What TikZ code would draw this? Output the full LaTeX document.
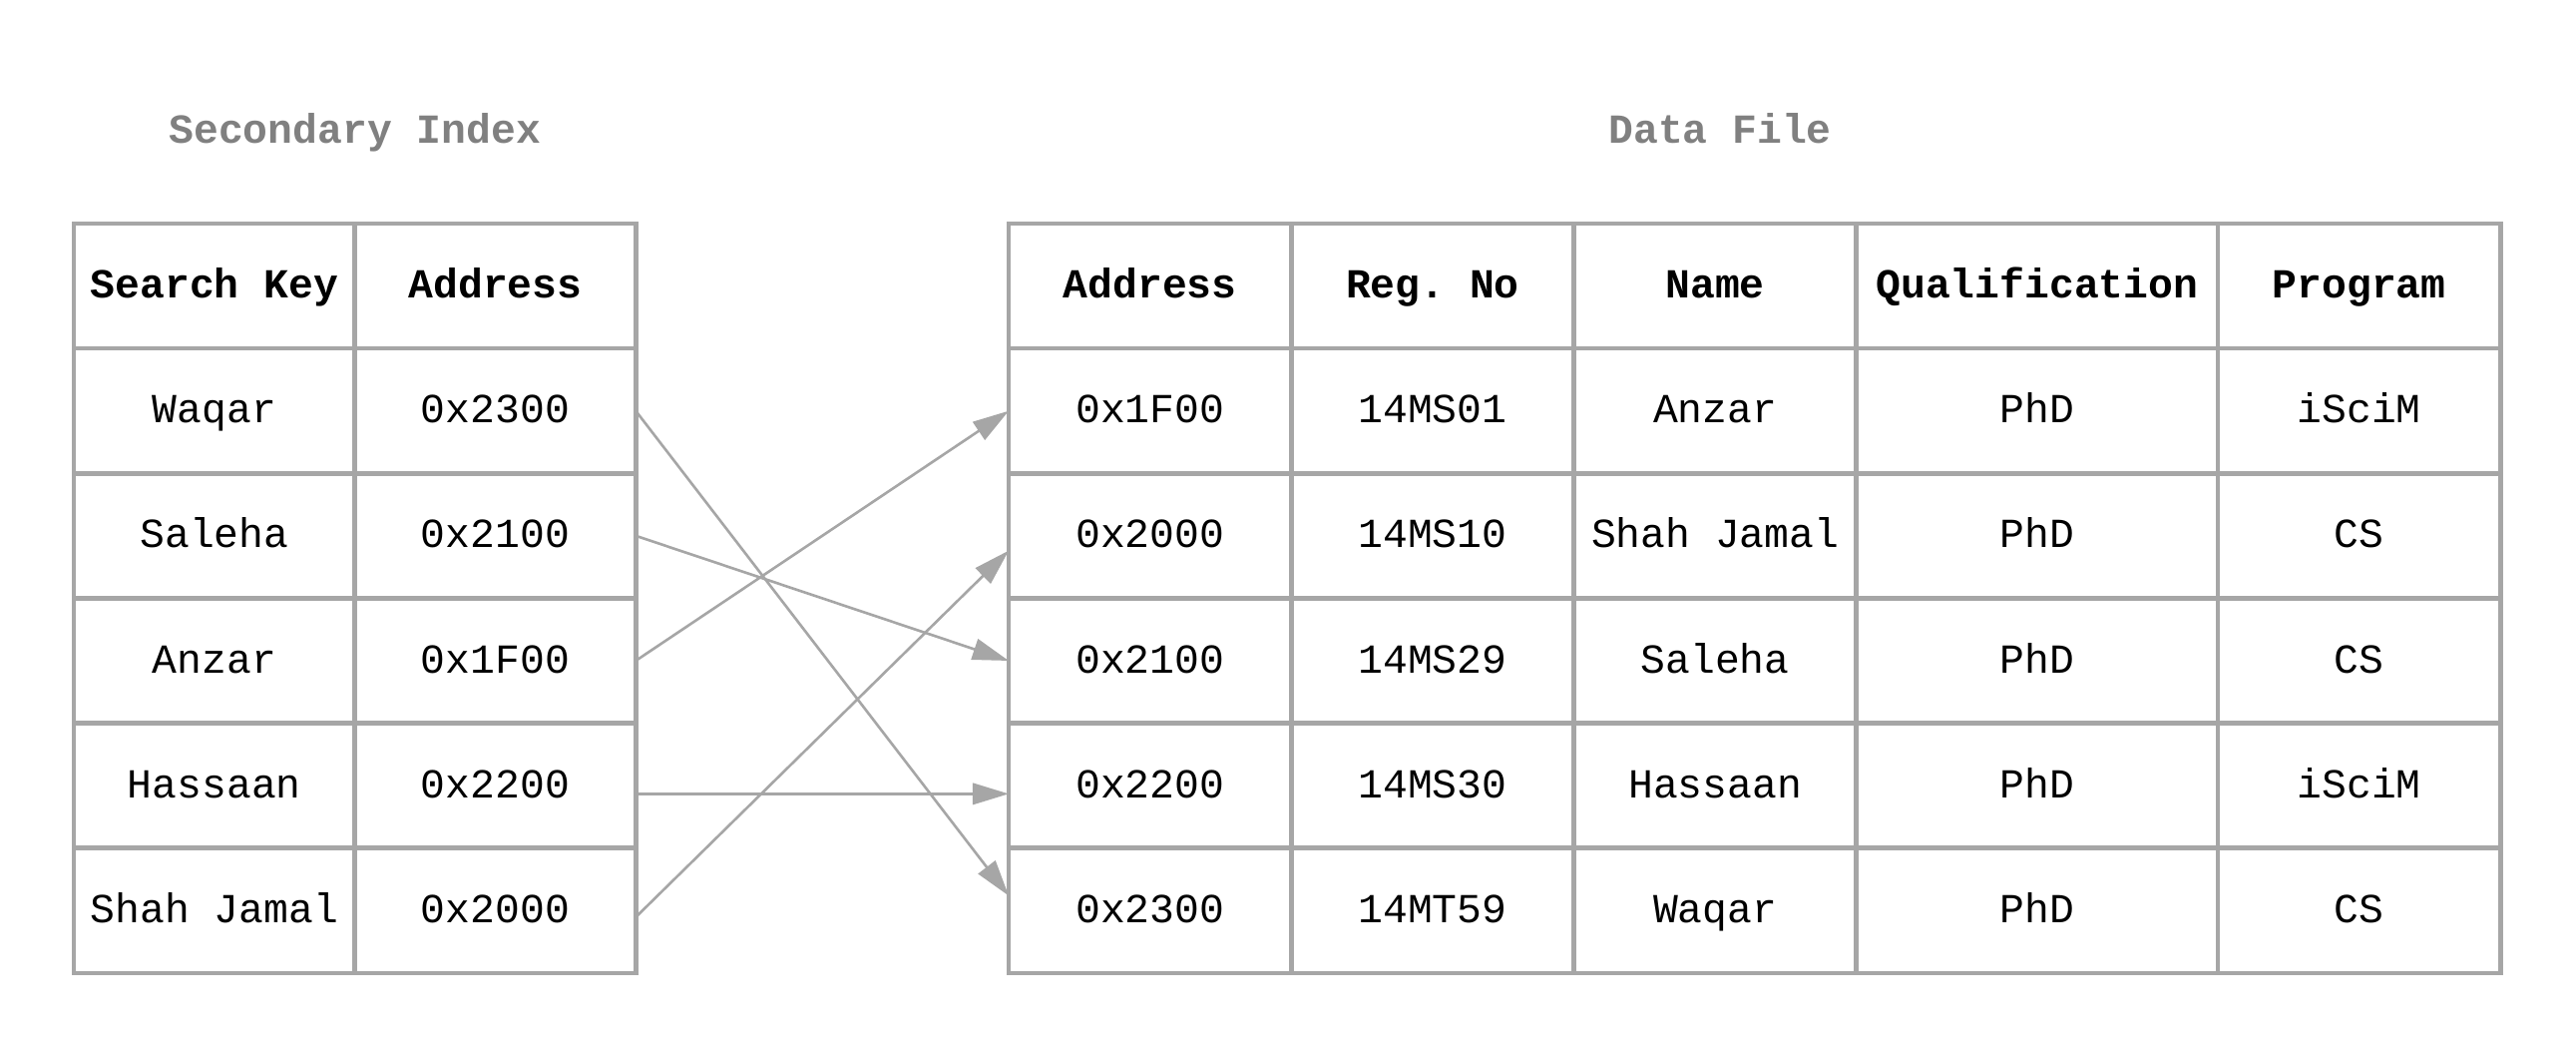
\documentclass[tikz,border=0pt]{standalone}
\usepackage{fontspec}
\setmonofont{Liberation Mono}
\usepackage{tikz}
\usetikzlibrary{positioning,arrows.meta}
\definecolor{gridgray}{HTML}{A6A6A6}
\definecolor{titlegray}{HTML}{808080}

\begin{document}
\begin{tikzpicture}[
			cell/.style={
				draw=gridgray,
				line width=1.6pt,
				rectangle,
				anchor=west,
				inner sep=0,
				outer sep=0,
				minimum width=3.42cm,
				minimum height=1.52cm,
				font=\ttfamily\fontsize{14.3}{17}\selectfont,
				text height=10pt,
				text depth=1.6pt,
			},
			hcell/.style={
				cell,
				font=\ttfamily\bfseries\fontsize{14.3}{17}\selectfont,
			},
			dcell/.style={cell,minimum width=3.44cm},
			dhcell/.style={hcell,minimum width=3.44cm},
			wide/.style={minimum width=4.4cm},
			ttl/.style={
				anchor=base,
				text=titlegray,
				font=\ttfamily\bfseries\fontsize{14.3}{17}\selectfont,
			},
			link/.style={
				draw=gridgray,
				line width=0.9pt,
				-{Triangle[length=0.44cm,width=0.26cm]},
			}
		]
		\useasboundingbox (0,0) rectangle (31.36,-12.75);

		\node[ttl] (tsi) at (4.32,-1.74) {Secondary Index};
		\node[ttl] (tdf) at (20.94,-1.74) {Data File};

		% secondary index
		\node[hcell] (sk0) at (0.9,-3.48) {Search Key} node[hcell] (sa0) at (sk0.east) {Address};
		\node[cell,below=0pt of sk0] (sk1) {Waqar} node[cell] (sa1) at (sk1.east) {0x2300};
		\node[cell,below=0pt of sk1] (sk2) {Saleha} node[cell] (sa2) at (sk2.east) {0x2100};
		\node[cell,below=0pt of sk2] (sk3) {Anzar} node[cell] (sa3) at (sk3.east) {0x1F00};
		\node[cell,below=0pt of sk3] (sk4) {Hassaan} node[cell] (sa4) at (sk4.east) {0x2200};
		\node[cell,below=0pt of sk4] (sk5) {Shah Jamal} node[cell] (sa5) at (sk5.east) {0x2000};

		% data file
		\node[dhcell] (da0) at (12.28,-3.48) {Address} node[dhcell] (dr0) at (da0.east) {Reg. No} node[dhcell] (dn0) at (dr0.east) {Name} node[dhcell,wide] (dq0) at (dn0.east) {Qualification} node[dhcell] (dp0) at (dq0.east) {Program};
		\node[dcell,below=0pt of da0] (da1) {0x1F00} node[dcell] (dr1) at (da1.east) {14MS01} node[dcell] (dn1) at (dr1.east) {Anzar} node[dcell,wide] (dq1) at (dn1.east) {PhD} node[dcell] (dp1) at (dq1.east) {iSciM};
		\node[dcell,below=0pt of da1] (da2) {0x2000} node[dcell] (dr2) at (da2.east) {14MS10} node[dcell] (dn2) at (dr2.east) {Shah Jamal} node[dcell,wide] (dq2) at (dn2.east) {PhD} node[dcell] (dp2) at (dq2.east) {CS};
		\node[dcell,below=0pt of da2] (da3) {0x2100} node[dcell] (dr3) at (da3.east) {14MS29} node[dcell] (dn3) at (dr3.east) {Saleha} node[dcell,wide] (dq3) at (dn3.east) {PhD} node[dcell] (dp3) at (dq3.east) {CS};
		\node[dcell,below=0pt of da3] (da4) {0x2200} node[dcell] (dr4) at (da4.east) {14MS30} node[dcell] (dn4) at (dr4.east) {Hassaan} node[dcell,wide] (dq4) at (dn4.east) {PhD} node[dcell] (dp4) at (dq4.east) {iSciM};
		\node[dcell,below=0pt of da4] (da5) {0x2300} node[dcell] (dr5) at (da5.east) {14MT59} node[dcell] (dn5) at (dr5.east) {Waqar} node[dcell,wide] (dq5) at (dn5.east) {PhD} node[dcell] (dp5) at (dq5.east) {CS};

		% pointers
		\draw (sa1.east) edge[link] ([yshift=.18cm]da5.west);
		\draw (sa2.east) edge[link] (da3.west);
		\draw (sa3.east) edge[link] (da1.west);
		\draw ([yshift=-.1cm]sa4.east) edge[link] ([yshift=-.1cm]da4.west);
		\draw ([yshift=-.08cm]sa5.east) edge[link] ([yshift=-.18cm]da2.west);

	\end{tikzpicture}
\end{document}
